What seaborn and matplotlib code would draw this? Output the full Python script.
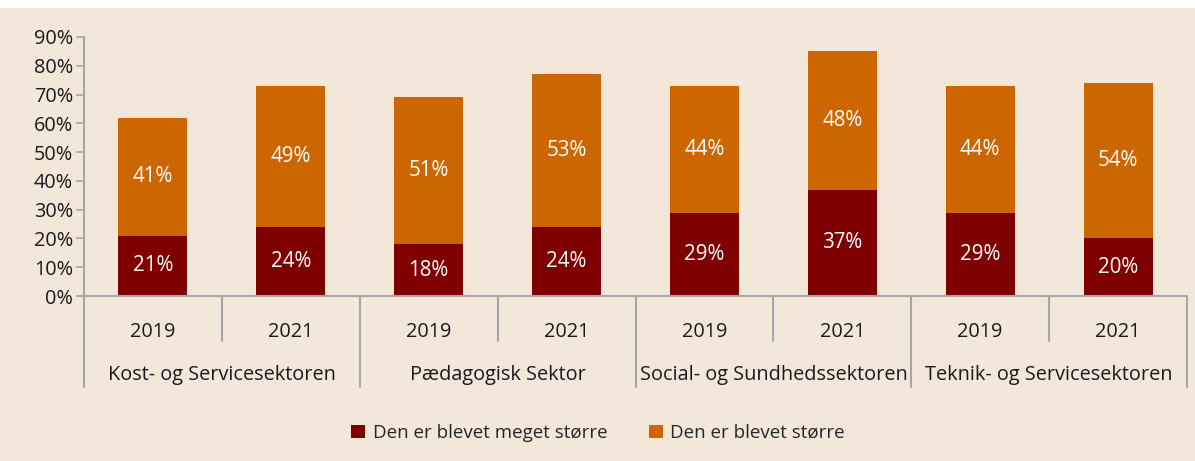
import matplotlib
matplotlib.use("Agg")
import matplotlib.pyplot as plt
import matplotlib.transforms as mtransforms
from matplotlib.patches import Patch, Rectangle
import seaborn as sns
import pandas as pd
import numpy as np

# ---- data ----
sectors = ["Kost- og Servicesektoren", "Pædagogisk Sektor",
           "Social- og Sundhedssektoren", "Teknik- og Servicesektoren"]
years = ["2019", "2021"]
meget_stoerre = [21, 24, 18, 24, 29, 37, 29, 20]   # Den er blevet meget større
stoerre = [41, 49, 51, 53, 44, 48, 44, 54]          # Den er blevet større
series_names = ["Den er blevet meget større", "Den er blevet større"]
yticks = [0, 10, 20, 30, 40, 50, 60, 70, 80, 90]

C_DARK = "#7F0000"
C_ORANGE = "#CC6600"
BG = "#F3E7DA"
GRID = "#A6A6A6"
TXT = "#1a1a1a"
FS = 14.3

sns.set_theme(style="white")
plt.rcParams["font.family"] = ["Open Sans", "DejaVu Sans"]

labels = [f"{s}|{y}" for s in sectors for y in years]
df = pd.DataFrame({
    "slot": labels,
    "bottom": meget_stoerre,
    "top": stoerre,
})
df["total"] = df["bottom"] + df["top"]

fig = plt.figure(figsize=(11.95, 4.61), dpi=100, facecolor="white")
fig.patches.append(Rectangle((0, 0), 1, 1 - 8 / 461, transform=fig.transFigure,
                             facecolor=BG, edgecolor="none", zorder=-10))

ax = fig.add_axes([84 / 1195, 1 - 296 / 461, (1187 - 84) / 1195, (296 - 37) / 461])
ax.set_facecolor("none")

sns.barplot(data=df, x="slot", y="total", order=labels, color=C_ORANGE,
            width=0.5, saturation=1, ax=ax, linewidth=0)
sns.barplot(data=df, x="slot", y="bottom", order=labels, color=C_DARK,
            width=0.5, saturation=1, ax=ax, linewidth=0)

ax.set_ylim(0, 90)
ax.set_xlim(-0.5, len(labels) - 0.5)
ax.set_yticks(yticks)
ax.set_yticklabels([f"{t}%" for t in yticks], fontsize=FS, color=TXT)
ax.tick_params(axis="y", length=6, width=1.2, color=GRID, pad=2, left=True)
ax.set_xticks(range(len(labels)))
ax.set_xticklabels([y for s in sectors for y in years], fontsize=FS, color=TXT)
ax.tick_params(axis="x", length=0, pad=19)
ax.set_xlabel("")
ax.set_ylabel("")

for sp in ["top", "right"]:
    ax.spines[sp].set_visible(False)
ax.spines["left"].set_color(GRID)
ax.spines["left"].set_linewidth(1.5)
ax.spines["bottom"].set_color(GRID)
ax.spines["bottom"].set_linewidth(1.5)
ax.spines["bottom"].set_bounds(-0.5 - 7 / 137.9, len(labels) - 0.5)

# value labels
for i, (b, t) in enumerate(zip(meget_stoerre, stoerre)):
    ax.text(i, b / 2, f"{b}%", ha="center", va="center", color="white", fontsize=FS + 0.5)
    ax.text(i, b + t / 2, f"{t}%", ha="center", va="center", color="white", fontsize=FS + 0.5)

# category separators
trans = mtransforms.blended_transform_factory(ax.transData, ax.transAxes)
small = -(341 - 296) / 259
big = -(387 - 296) / 259
for k in range(len(labels) + 1):
    x = k - 0.5
    y_end = big if k % 2 == 0 else small
    ax.plot([x, x], [0, y_end], color=GRID, lw=1.5, transform=trans, clip_on=False)

# group labels
for g, s in enumerate(sectors):
    ax.text(2 * g + 0.5, -(375 - 296) / 259, s, transform=trans, ha="center",
            va="center", fontsize=FS, color=TXT)

handles = [Patch(facecolor=C_DARK, edgecolor="none"),
           Patch(facecolor=C_ORANGE, edgecolor="none")]
fig.legend(handles, series_names, loc="center", bbox_to_anchor=(598 / 1195, 1 - 433 / 461),
           ncol=2, frameon=False, fontsize=13.5, handlelength=0.75, handleheight=0.75,
           handletextpad=0.4, columnspacing=2.2)

fig.savefig("out.png", dpi=100, facecolor=fig.get_facecolor())
